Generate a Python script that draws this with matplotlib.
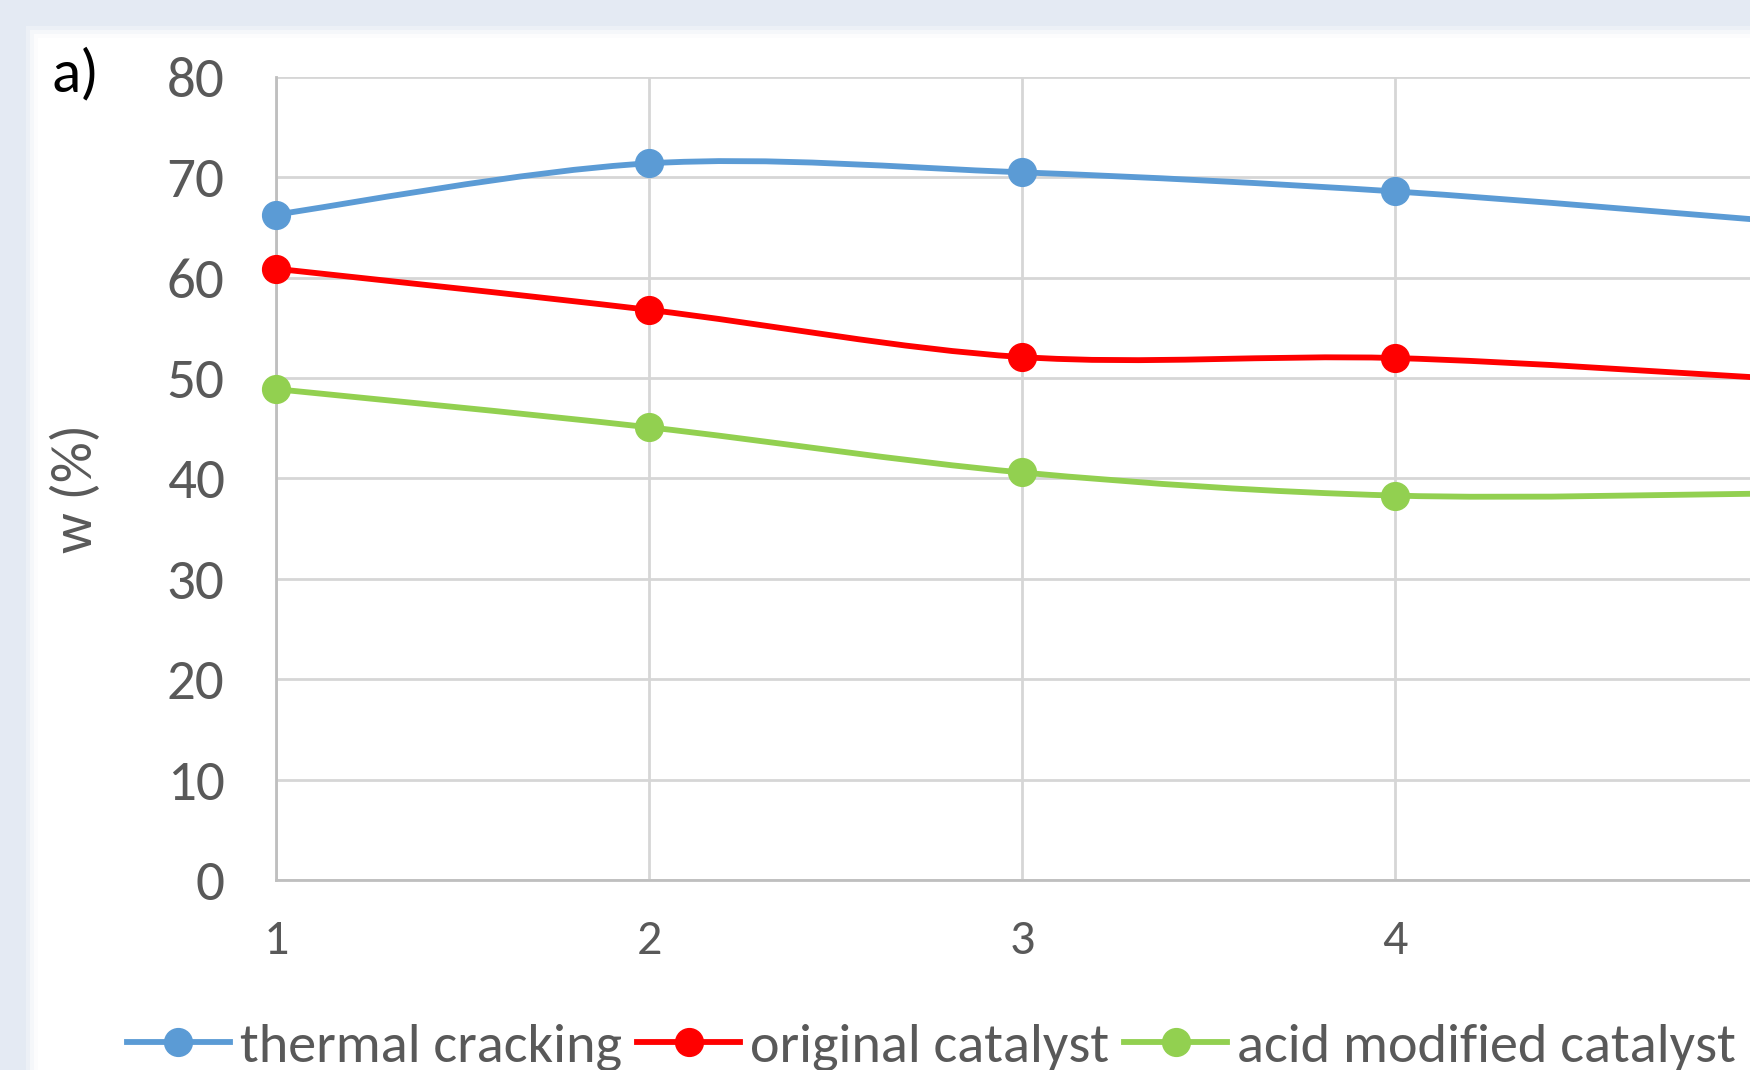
import matplotlib
matplotlib.use('Agg')
import matplotlib.pyplot as plt
from matplotlib import font_manager
from matplotlib.font_manager import FontProperties
from matplotlib.lines import Line2D
from matplotlib.patches import PathPatch, Rectangle
from matplotlib.path import Path

# data
sample_no = [1, 2, 3, 4, 5]
thermal_cracking = [66.3, 71.4, 70.5, 68.6, 65.7]
original_catalyst = [60.9, 56.8, 52.1, 52.0, 50.0]
acid_modified = [48.9, 45.1, 40.6, 38.3, 38.5]
series_names = ['thermal cracking', 'original catalyst', 'acid modified catalyst']
series_colors = ['#5B9BD5', '#FF0000', '#92D050']
y_ticks = [0, 10, 20, 30, 40, 50, 60, 70, 80]
x_ticks = [1, 2, 3, 4]

W, H = 1750, 1070
DPI = 100


def pick_font(names):
    for name in names:
        try:
            font_manager.findfont(FontProperties(family=name), fallback_to_default=False)
            return name
        except ValueError:
            pass
    return 'DejaVu Sans'


FONT = pick_font(['Carlito', 'Open Sans', 'Lato'])
plt.rcParams['font.family'] = [FONT, 'DejaVu Sans']
TEXT_GRAY = '#595959'


def smooth_path(xs, ys):
    # Excel style smoothed line: cubic bezier through the points
    pts = list(zip(xs, ys))
    n = len(pts)
    verts = [pts[0]]
    codes = [Path.MOVETO]
    for i in range(n - 1):
        p0 = pts[max(i - 1, 0)]
        p1 = pts[i]
        p2 = pts[i + 1]
        p3 = pts[min(i + 2, n - 1)]
        c1 = (p1[0] + (p2[0] - p0[0]) / 6, p1[1] + (p2[1] - p0[1]) / 6)
        c2 = (p2[0] - (p3[0] - p1[0]) / 6, p2[1] - (p3[1] - p1[1]) / 6)
        verts += [c1, c2, p2]
        codes += [Path.CURVE4] * 3
    return Path(verts, codes)


fig = plt.figure(figsize=(W / DPI, H / DPI), dpi=DPI, facecolor='#E4EAF3')

# white chart panel with a soft edge
for off, alpha in [(26, 0.3), (30, 0.5), (34, 0.75), (38, 1.0)]:
    fig.patches.append(Rectangle((off / W, 0), 1, 1 - off / H, transform=fig.transFigure,
                                 facecolor='white', edgecolor='none', alpha=alpha, zorder=-5))

ax = fig.add_axes([276 / W, 1 - 880 / H, 1 - 276 / W, (880 - 77) / H])
ax.set_facecolor('white')
ax.set_xlim(1, 1 + (W - 276) / 373)
ax.set_ylim(0, 80)
ax.set_xticks(x_ticks)
ax.set_yticks(y_ticks)
ax.grid(True, color='#D6D6D6', linewidth=2.0)
ax.set_axisbelow(True)
for side in ['top', 'right']:
    ax.spines[side].set_visible(False)
for side in ['left', 'bottom']:
    ax.spines[side].set_color('#BFBFBF')
    ax.spines[side].set_linewidth(2.0)
ax.tick_params(axis='y', length=0, pad=37, labelsize=41, labelcolor=TEXT_GRAY)
ax.tick_params(axis='x', length=0, pad=29, labelsize=36, labelcolor=TEXT_GRAY)

all_series = [thermal_cracking, original_catalyst, acid_modified]
handles = []
for values, color in zip(all_series, series_colors):
    ax.add_patch(PathPatch(smooth_path(sample_no, values), facecolor='none',
                           edgecolor=color, linewidth=4.2, zorder=3))
    ax.plot(sample_no, values, linestyle='none', marker='o', markersize=20,
            color=color, clip_on=False, zorder=4)
    handles.append(Line2D([], [], color=color, linewidth=4.2, marker='o', markersize=20))

fs = 40.5
fs_px = fs * DPI / 72
fig.legend(handles, series_names, loc='center left', bbox_to_anchor=(127 / W, 1 - 1047 / H),
           ncol=3, frameon=False, fontsize=fs, labelcolor=TEXT_GRAY, numpoints=1,
           handlelength=103 / fs_px, handletextpad=10 / fs_px, columnspacing=15 / fs_px,
           borderpad=0, borderaxespad=0)

fig.text(76 / W, 1 - 489 / H, 'w (%)', rotation=90, ha='center', va='center',
         fontsize=41, color=TEXT_GRAY)
fig.text(51 / W, 1 - 48 / H, 'a)', ha='left', va='top', fontsize=44, color='black')

fig.savefig('out.png', dpi=DPI, facecolor=fig.get_facecolor())
